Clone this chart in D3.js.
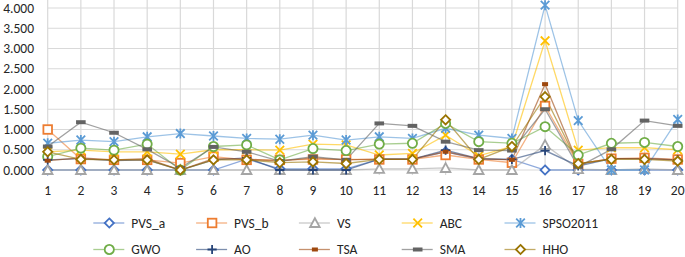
<!DOCTYPE html>
<html>
<head>
<meta charset="utf-8">
<script src="https://cdn.jsdelivr.net/npm/d3@7"></script>
<style>
  body { margin: 0; background: #fff; }
  text { font-family: Carlito, Calibri, Lato, sans-serif; fill: #262626; }
</style>
</head>
<body>
<div class="chart"></div>
<script>

// categories along the x axis
var categories = d3.range(1, 21);

var seriesNames = ["PVS_a", "PVS_b", "VS", "ABC", "SPSO2011", "GWO", "AO", "TSA", "SMA", "HHO"];

var PVS_a    = [0, 0, 0, 0, 0, 0, 0.27, 0.03, 0.03, 0.03, 0.27, 0.27, 0.45, 0.27, 0.26, 0, 0, 0, 0, 0];
var PVS_b    = [1.0, 0.27, 0.25, 0.25, 0.17, 0.33, 0.25, 0.25, 0.26, 0.26, 0.26, 0.26, 0.37, 0.26, 0.18, 1.58, 0.15, 0.28, 0.3, 0.26];
var VS       = [0, 0, 0, 0, 0, 0, 0, 0, 0, 0, 0.03, 0.03, 0.05, 0, 0, 0.62, 0.02, 0, 0.03, 0];
var ABC      = [0.45, 0.49, 0.45, 0.45, 0.39, 0.5, 0.5, 0.49, 0.64, 0.62, 0.37, 0.41, 0.86, 0.35, 0.58, 3.19, 0.49, 0.55, 0.55, 0.5];
var SPSO2011 = [0.66, 0.74, 0.7, 0.82, 0.9, 0.84, 0.78, 0.76, 0.86, 0.74, 0.82, 0.78, 1.03, 0.86, 0.78, 4.07, 1.22, 0, 0, 1.25];
var GWO      = [0.33, 0.54, 0.49, 0.64, 0, 0.58, 0.62, 0.25, 0.53, 0.48, 0.64, 0.66, 1.15, 0.7, 0.66, 1.07, 0.37, 0.66, 0.68, 0.58];
var AO       = [0.25, 0.28, 0.23, 0.25, 0, 0.25, 0.3, 0, 0, 0, 0.27, 0.27, 0.49, 0.28, 0.26, 0.48, 0.1, 0.28, 0.28, 0.25];
var TSA      = [0.23, 0.3, 0.25, 0.28, 0, 0.28, 0.27, 0.22, 0.3, 0.25, 0.27, 0.27, 0.45, 0.28, 0.25, 2.12, 0.15, 0.28, 0.28, 0.25];
var SMA      = [0.58, 1.18, 0.92, 0.51, 0.05, 0.57, 0.45, 0.22, 0.33, 0.25, 1.15, 1.09, 0.7, 0.49, 0.48, 1.5, 0.08, 0.51, 1.22, 1.09];
var HHO      = [0.45, 0.26, 0.25, 0.25, 0, 0.25, 0.25, 0.18, 0.2, 0.16, 0.26, 0.26, 1.24, 0.26, 0.58, 1.81, 0.16, 0.26, 0.26, 0.22];

var yTicks = [0, 0.5, 1, 1.5, 2, 2.5, 3, 3.5, 4, 4.5];

var seriesValues = [PVS_a, PVS_b, VS, ABC, SPSO2011, GWO, AO, TSA, SMA, HHO];

var colors = {
    "PVS_a": "#4472C4",
    "PVS_b": "#ED7D31",
    "VS": "#A5A5A5",
    "ABC": "#FFC000",
    "SPSO2011": "#5B9BD5",
    "GWO": "#70AD47",
    "AO": "#264478",
    "TSA": "#9E480E",
    "SMA": "#636363",
    "HHO": "#997300"
};

var markers = {
    "PVS_a": "diamond",
    "PVS_b": "square",
    "VS": "triangle",
    "ABC": "x",
    "SPSO2011": "star",
    "GWO": "circle",
    "AO": "plus",
    "TSA": "dash",
    "SMA": "longdash",
    "HHO": "diamond"
};

var width = 685, height = 257;

var svg = d3.select(".chart").append("svg")
    .attr("width", width)
    .attr("height", height);

var x = d3.scalePoint()
    .domain(categories)
    .range([47.7, 677.7]);

var y = d3.scaleLinear()
    .domain([0, 4.5])
    .range([170, -12.25]);

// gridlines
svg.append("g").selectAll("line")
    .data(yTicks)
    .enter().append("line")
    .attr("x1", x(1))
    .attr("x2", x(20))
    .attr("y1", d => y(d))
    .attr("y2", d => y(d))
    .attr("stroke", "#D9D9D9")
    .attr("stroke-width", 1.2);

svg.append("g").selectAll("line")
    .data(categories)
    .enter().append("line")
    .attr("x1", d => x(d))
    .attr("x2", d => x(d))
    .attr("y1", y(4.5))
    .attr("y2", y(0) + 5)
    .attr("stroke", "#D9D9D9")
    .attr("stroke-width", 1.2);

// y labels
svg.append("g").selectAll("text")
    .data(yTicks.filter(d => d <= 4))
    .enter().append("text")
    .attr("x", 34)
    .attr("y", d => y(d))
    .attr("dy", "0.35em")
    .attr("text-anchor", "end")
    .style("font-size", "13.5px")
    .text(d => d3.format(".3f")(d));

// x labels
svg.append("g").selectAll("text")
    .data(categories)
    .enter().append("text")
    .attr("x", d => x(d))
    .attr("y", 190)
    .attr("dy", "0.35em")
    .attr("text-anchor", "middle")
    .style("font-size", "13.5px")
    .text(d => d);

function drawMarker(g, type, color) {
    if (type == "diamond") {
        g.append("path").attr("d", "M0,-4.6L4.6,0L0,4.6L-4.6,0Z")
            .attr("fill", "#fff").attr("stroke", color).attr("stroke-width", 1.8);
    } else if (type == "square") {
        g.append("rect").attr("x", -4.3).attr("y", -4.3).attr("width", 8.6).attr("height", 8.6)
            .attr("fill", "#fff").attr("stroke", color).attr("stroke-width", 1.8);
    } else if (type == "triangle") {
        g.append("path").attr("d", "M0,-4.8L4.8,4L-4.8,4Z")
            .attr("fill", "#fff").attr("stroke", color).attr("stroke-width", 1.8);
    } else if (type == "circle") {
        g.append("circle").attr("r", 4.6)
            .attr("fill", "#fff").attr("stroke", color).attr("stroke-width", 1.8);
    } else if (type == "x") {
        g.append("path").attr("d", "M-4.3,-4.3L4.3,4.3M-4.3,4.3L4.3,-4.3")
            .attr("fill", "none").attr("stroke", color).attr("stroke-width", 1.8);
    } else if (type == "star") {
        g.append("path").attr("d", "M-4.3,-4.3L4.3,4.3M-4.3,4.3L4.3,-4.3M0,-5L0,5")
            .attr("fill", "none").attr("stroke", color).attr("stroke-width", 1.8);
    } else if (type == "plus") {
        g.append("path").attr("d", "M-4.6,0L4.6,0M0,-4.6L0,4.6")
            .attr("fill", "none").attr("stroke", color).attr("stroke-width", 1.8);
    } else if (type == "dash") {
        g.append("rect").attr("x", -3).attr("y", -2).attr("width", 6).attr("height", 4)
            .attr("fill", color);
    } else if (type == "longdash") {
        g.append("rect").attr("x", -4.8).attr("y", -2).attr("width", 9.6).attr("height", 4)
            .attr("fill", color);
    }
}

var line = d3.line()
    .x((d, i) => x(categories[i]))
    .y(d => y(d));

// lines first, then markers per series
seriesNames.forEach(function(name, k) {
    svg.append("path")
        .datum(seriesValues[k])
        .attr("d", line)
        .attr("fill", "none")
        .attr("stroke", colors[name])
        .attr("stroke-opacity", 0.6)
        .attr("stroke-width", 1.3);
});

seriesNames.forEach(function(name, k) {
    seriesValues[k].forEach(function(v, i) {
        var g = svg.append("g")
            .attr("transform", "translate(" + x(categories[i]) + "," + y(v) + ")");
        drawMarker(g, markers[name], colors[name]);
    });
});

// legend, two rows of five
var legend = svg.append("g");
seriesNames.forEach(function(name, k) {
    var col = k % 5;
    var row = Math.floor(k / 5);
    var lx = 93.3 + col * 102.8;
    var ly = 223 + row * 26.5;
    var item = legend.append("g").attr("transform", "translate(" + lx + "," + ly + ")");
    item.append("line")
        .attr("x1", 0).attr("x2", 31)
        .attr("y1", 0).attr("y2", 0)
        .attr("stroke", colors[name])
        .attr("stroke-opacity", 0.6)
        .attr("stroke-width", 1.3);
    drawMarker(item.append("g").attr("transform", "translate(16,0)"), markers[name], colors[name]);
    item.append("text")
        .attr("x", 38)
        .attr("y", 0)
        .attr("dy", "0.35em")
        .style("font-size", "13.5px")
        .text(name);
});

</script>
</body>
</html>
